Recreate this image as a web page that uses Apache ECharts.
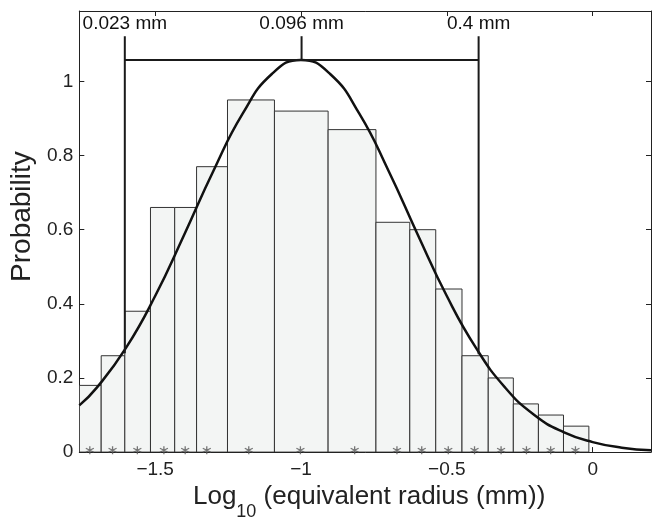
<!DOCTYPE html>
<html>
<head>
<meta charset="utf-8">
<script src="https://cdn.jsdelivr.net/npm/echarts@6/dist/echarts.min.js"></script>
<style>
html,body{margin:0;padding:0;background:#fff;}
#c{width:659px;height:526px;}
</style>
</head>
<body>
<div id="c"></div>
<script>
// Histogram bin edges (log10 radius) and bar heights
const binEdges = [-1.76, -1.685, -1.604, -1.516, -1.433, -1.358, -1.252, -1.091, -0.907, -0.743, -0.627, -0.538, -0.448, -0.358, -0.272, -0.186, -0.100, -0.013];
const binProb = [0.18, 0.26, 0.38, 0.66, 0.66, 0.77, 0.95, 0.92, 0.87, 0.62, 0.60, 0.44, 0.26, 0.20, 0.13, 0.10, 0.07];
// Star markers along the x axis
const starX = [-1.724, -1.646, -1.561, -1.470, -1.397, -1.323, -1.179, -1.002, -0.816, -0.671, -0.586, -0.495, -0.405, -0.314, -0.227, -0.144, -0.059];
// Fitted curve
const curveX = [-1.76, -1.7, -1.6, -1.5, -1.4, -1.3, -1.2, -1.1, -1.0, -0.9, -0.8, -0.7, -0.6, -0.5, -0.4, -0.3, -0.2, -0.1, 0.0, 0.1, 0.2];
const curveY = [0.126, 0.174, 0.281, 0.421, 0.587, 0.759, 0.913, 1.020, 1.058, 1.020, 0.913, 0.759, 0.587, 0.421, 0.281, 0.174, 0.100, 0.054, 0.027, 0.012, 0.005];
// Annotation bracket
const markX = [-1.604, -0.998, -0.391];
const markLabels = ['0.023 mm', '0.096 mm', '0.4 mm'];
const markLow = [0.267, 1.058, 0.264];
const markTop = 1.122;
const bracketY = 1.058;
// Axis ticks
const xTicks = [-1.5, -1, -0.5, 0];
const yTicks = [0, 0.2, 0.4, 0.6, 0.8, 1];
const xRange = [-1.76, 0.2];
const yRange = [0, 1.19];

const FONT = '"Liberation Sans", Arial, Helvetica, sans-serif';
const AX = '#222';

const bars = binProb.map((p, i) => [binEdges[i], binEdges[i + 1], p]);
const curve = curveX.map((x, i) => [x, curveY[i]]);
const stars = starX.map(x => [x, 0.005]);
const labelPts = markX.map((x, i) => ({ value: [x, markTop], name: markLabels[i] }));

const markSeries = markX.map((x, i) => ({
  type: 'line', silent: true, symbol: 'none', z: 5,
  lineStyle: { color: '#1a1a1a', width: 2 },
  data: [[x, markLow[i]], [x, markTop]]
}));

const chart = echarts.init(document.getElementById('c'), null, { renderer: 'canvas' });
chart.setOption({
  animation: false,
  backgroundColor: '#fff',
  grid: { left: 77, right: 8, top: 11, bottom: 63, containLabel: false },
  xAxis: [
    {
      type: 'value', min: xRange[0], max: xRange[1], position: 'bottom',
      axisLine: { show: true, onZero: false, lineStyle: { color: AX, width: 1 } },
      axisTick: { show: true, inside: true, length: 5, customValues: xTicks, lineStyle: { color: AX } },
      axisLabel: { show: true, customValues: xTicks, margin: 8, fontFamily: FONT, fontSize: 19, color: '#222',
        formatter: v => (v < 0 ? '\u2212' + String(-v) : String(v)) },
      splitLine: { show: false },
      name: '{a|Log}{b|10}{a| (equivalent radius (mm))}',
      nameLocation: 'middle', nameGap: 28,
      nameTextStyle: {
        fontFamily: FONT, color: '#222', padding: [0, 0, 0, 8],
        rich: {
          a: { fontFamily: FONT, fontSize: 26, lineHeight: 30, verticalAlign: 'top', color: '#222' },
          b: { fontFamily: FONT, fontSize: 18, lineHeight: 18, padding: [19, 0, 0, 0], verticalAlign: 'top', color: '#222' }
        }
      }
    },
    {
      type: 'value', min: xRange[0], max: xRange[1], position: 'top',
      axisLine: { show: true, onZero: false, lineStyle: { color: AX, width: 1 } },
      axisTick: { show: true, inside: true, length: 5, customValues: xTicks, lineStyle: { color: AX } },
      axisLabel: { show: false },
      splitLine: { show: false }
    }
  ],
  yAxis: [
    {
      type: 'value', min: yRange[0], max: yRange[1], position: 'left',
      axisLine: { show: true, onZero: false, lineStyle: { color: AX, width: 1 } },
      axisTick: { show: true, inside: true, length: 5, customValues: yTicks, lineStyle: { color: AX } },
      axisLabel: { show: true, customValues: yTicks, margin: 6, fontFamily: FONT, fontSize: 19, color: '#222',
        formatter: v => String(v) },
      splitLine: { show: false },
      name: 'Probability', nameLocation: 'middle', nameGap: 36, nameRotate: 90,
      nameTextStyle: { fontFamily: FONT, fontSize: 28, color: '#222', padding: [0, 0, 0, 30] }
    },
    {
      type: 'value', min: yRange[0], max: yRange[1], position: 'right',
      axisLine: { show: true, onZero: false, lineStyle: { color: AX, width: 1 } },
      axisTick: { show: true, inside: true, length: 5, customValues: yTicks, lineStyle: { color: AX } },
      axisLabel: { show: false },
      splitLine: { show: false }
    }
  ],
  series: [
    {
      type: 'custom', silent: true, z: 1, clip: true,
      encode: { x: [0, 1], y: 2 },
      data: bars,
      renderItem: function (params, api) {
        const p0 = api.coord([api.value(0), api.value(2)]);
        const p1 = api.coord([api.value(1), 0]);
        return {
          type: 'rect',
          shape: { x: p0[0], y: p0[1], width: p1[0] - p0[0], height: p1[1] - p0[1] },
          style: { fill: '#f3f5f4', stroke: '#333', lineWidth: 1 }
        };
      }
    },
    {
      type: 'scatter', silent: true, z: 3,
      symbol: 'path://M5 0L5 10M0.7 2.5L9.3 7.5M0.7 7.5L9.3 2.5',
      symbolSize: 8,
      itemStyle: { color: 'none', borderColor: '#555', borderWidth: 1.3 },
      data: stars
    },
    {
      type: 'line', silent: true, symbol: 'none', smooth: true, z: 4, clip: true,
      lineStyle: { color: '#111', width: 2.5 },
      data: curve
    },
    {
      type: 'line', silent: true, symbol: 'none', z: 5,
      lineStyle: { color: '#1a1a1a', width: 2 },
      data: [[markX[0], bracketY], [markX[2], bracketY]]
    },
    {
      type: 'scatter', silent: true, z: 6, symbol: 'circle', symbolSize: 2,
      itemStyle: { color: 'rgba(0,0,0,0)' },
      label: { show: true, position: 'top', distance: 2, formatter: p => p.name,
        fontFamily: FONT, fontSize: 19, color: '#111', opacity: 1 },
      data: labelPts
    }
  ].concat(markSeries)
});
</script>
</body>
</html>
